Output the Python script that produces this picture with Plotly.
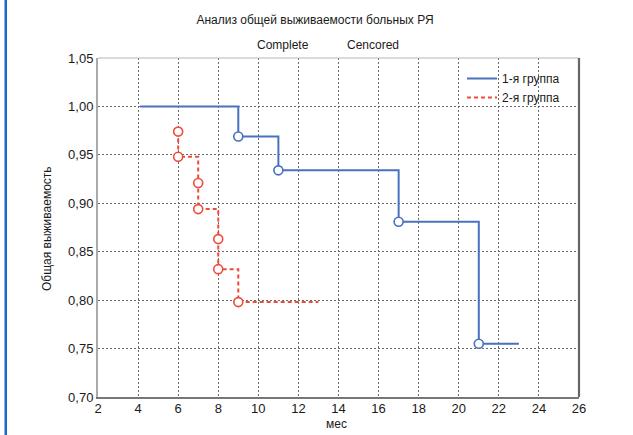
import plotly.graph_objects as go

# ---- data ----
group1_name = "1-я группа"
group1_time = [4.1, 9, 11, 17, 21, 23]
group1_surv = [1.0, 0.969, 0.934, 0.881, 0.755, 0.755]
group1_event_time = [9, 11, 17, 21]
group1_event_surv = [0.969, 0.934, 0.881, 0.755]

group2_name = "2-я группа"
group2_time = [6, 6, 7, 7, 8, 8, 9, 13]
group2_surv = [0.974, 0.948, 0.921, 0.894, 0.863, 0.832, 0.798, 0.798]
group2_event_time = [6, 6, 7, 7, 8, 8, 9]
group2_event_surv = [0.974, 0.948, 0.921, 0.894, 0.863, 0.832, 0.798]

x_ticks = [2, 4, 6, 8, 10, 12, 14, 16, 18, 20, 22, 24, 26]
y_ticks = [0.70, 0.75, 0.80, 0.85, 0.90, 0.95, 1.00, 1.05]

title_text = "Анализ общей выживаемости больных РЯ"
subtitle_labels = ["Complete", "Cencored"]
x_title = "мес"
y_title = "Общая выживаемость"

BLUE = "#4a70c0"
RED = "#ee4b3b"
FONT = "Liberation Sans, Arial, sans-serif"

W, H = 633, 435
L, R, T, B = 98, 54, 58, 38
pw, ph = W - L - R, H - T - B


def px_to_paper_x(px):
    return (px - L) / pw


def px_to_paper_y(py):
    return (H - B - py) / ph


fig = go.Figure()

fig.add_trace(go.Scatter(
    x=group1_time, y=group1_surv, mode="lines", line_shape="hv",
    line=dict(color=BLUE, width=2), name=group1_name,
))
fig.add_trace(go.Scatter(
    x=group2_time, y=group2_surv, mode="lines", line_shape="hv",
    line=dict(color=RED, width=2, dash="4px,3px"), name=group2_name,
))
fig.add_trace(go.Scatter(
    x=group1_event_time, y=group1_event_surv, mode="markers", showlegend=False,
    marker=dict(symbol="circle", size=9, color="white", line=dict(color=BLUE, width=1.6)),
))
fig.add_trace(go.Scatter(
    x=group2_event_time, y=group2_event_surv, mode="markers", showlegend=False,
    marker=dict(symbol="circle", size=9, color="white", line=dict(color=RED, width=1.6)),
))

axis_font = dict(family=FONT, size=13, color="#1a1a1a")
grid = dict(showgrid=True, gridcolor="#6a6a6a", gridwidth=1, griddash="2px,2px",
            zeroline=False, ticks="", tickfont=axis_font)

fig.update_xaxes(range=[2, 26], tickvals=x_ticks, ticktext=[str(v) for v in x_ticks],
                 showline=True, linecolor="#777777", linewidth=2, ticklabelstandoff=-2, **grid)
fig.update_yaxes(range=[0.70, 1.05], tickvals=y_ticks, tickformat=".2f",
                 showline=True, linecolor="#aaaaaa", linewidth=2, ticklabelstandoff=0, **grid)

shapes = [
    # top and right frame edges
    dict(type="line", xref="paper", yref="paper", x0=0, x1=1, y0=1, y1=1,
         line=dict(color="#b5b5b5", width=1.2)),
    dict(type="line", xref="paper", yref="paper", x0=1, x1=1, y0=0, y1=1,
         line=dict(color="#666666", width=2.2)),
    # blue page rule at left edge
    dict(type="rect", xref="paper", yref="paper",
         x0=px_to_paper_x(4.5), x1=px_to_paper_x(7), y0=px_to_paper_y(H), y1=px_to_paper_y(0),
         line=dict(width=0), fillcolor="#1f67c4"),
]

txt_font = dict(family=FONT, size=12, color="#1a1a1a")
annotations = [
    dict(text=subtitle_labels[0], xref="paper", yref="paper", xanchor="center", yanchor="middle",
         x=px_to_paper_x(282.5), y=px_to_paper_y(45), showarrow=False, font=txt_font),
    dict(text=subtitle_labels[1], xref="paper", yref="paper", xanchor="center", yanchor="middle",
         x=px_to_paper_x(372.5), y=px_to_paper_y(45), showarrow=False, font=txt_font),
    dict(text=x_title, xref="paper", yref="paper", xanchor="center", yanchor="middle",
         x=px_to_paper_x(336), y=px_to_paper_y(424), showarrow=False, font=txt_font),
    dict(text=y_title, xref="paper", yref="paper", textangle=-90, xanchor="center", yanchor="middle",
         x=px_to_paper_x(47), y=px_to_paper_y(229), showarrow=False, font=txt_font),
]

fig.update_layout(
    width=W, height=H,
    margin=dict(l=L, r=R, t=T, b=B),
    paper_bgcolor="white", plot_bgcolor="white",
    separators=", ",
    title=dict(text=title_text, x=315 / W, xanchor="center", y=1 - 20 / H, yanchor="middle",
               font=txt_font),
    showlegend=True,
    legend=dict(x=px_to_paper_x(462), y=px_to_paper_y(64), xanchor="left", yanchor="top",
                bgcolor="rgba(0,0,0,0)", borderwidth=0, tracegroupgap=0,
                itemwidth=30, font=txt_font),
    shapes=shapes,
    annotations=annotations,
)

fig.write_html("out.html", config={"displayModeBar": False},
               post_script="document.body.style.margin='0px';")
